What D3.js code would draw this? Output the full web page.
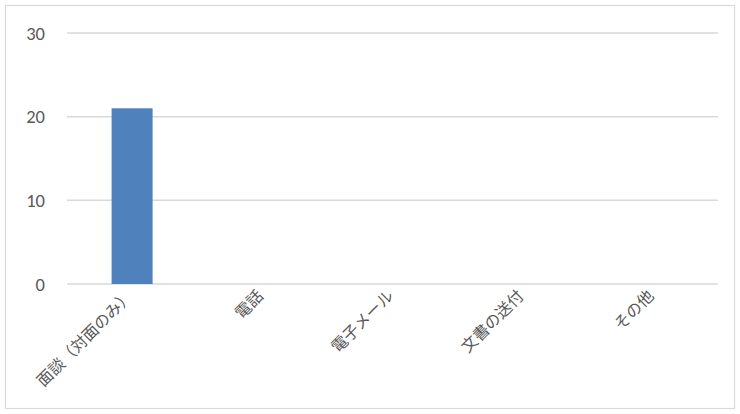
<!DOCTYPE html>
<html><head><meta charset="utf-8">
<script src="https://cdn.jsdelivr.net/npm/d3@7"></script>
<style>body{margin:0;background:#fff}svg{display:block}</style>
</head><body>
<script>
const categories = ["面談（対面のみ）", "電話", "電子メール", "文書の送付", "その他"];
const values = [21, 0, 0, 0, 0];
const yTicks = [0, 10, 20, 30];

const W = 740, H = 414;
const svg = d3.select("body").append("svg").attr("width", W).attr("height", H);
svg.append("rect").attr("x", 5.5).attr("y", 5.5).attr("width", 729).attr("height", 403)
  .attr("fill", "#fff").attr("stroke", "#d9d9d9").attr("stroke-width", 1.2);

const x = d3.scaleBand().domain(categories).range([67, 718]).paddingInner(0.685).paddingOuter(0.3425);
const y = d3.scaleLinear().domain([0, 30]).range([284, 33]);

const font = "'Noto Sans CJK JP', 'Noto Sans', sans-serif";
svg.append("g").selectAll("line").data(yTicks).join("line")
  .attr("x1", 67).attr("x2", 718).attr("y1", d => y(d)).attr("y2", d => y(d))
  .attr("stroke", "#d9d9d9").attr("stroke-width", 1.5);

svg.append("g").selectAll("text").data(yTicks).join("text")
  .attr("x", 45).attr("y", d => y(d)).attr("dy", "0.36em").attr("text-anchor", "end")
  .attr("fill", "#595959").attr("font-family", "Carlito, 'Open Sans', sans-serif").attr("font-size", 18.5)
  .text(d => d);

svg.append("g").selectAll("rect").data(values).join("rect")
  .attr("x", (d, i) => x(categories[i])).attr("width", x.bandwidth())
  .attr("y", d => y(d)).attr("height", d => y(0) - y(d)).attr("fill", "#4f81bd");

svg.append("g").selectAll("text").data(categories).join("text")
  .attr("transform", d => `translate(${x(d) + x.bandwidth() / 2 + 2},${297}) rotate(-45)`)
  .attr("text-anchor", "end").attr("fill", "#595959").attr("font-family", font).attr("font-size", 16)
  .text(d => d);
</script>
</body></html>
